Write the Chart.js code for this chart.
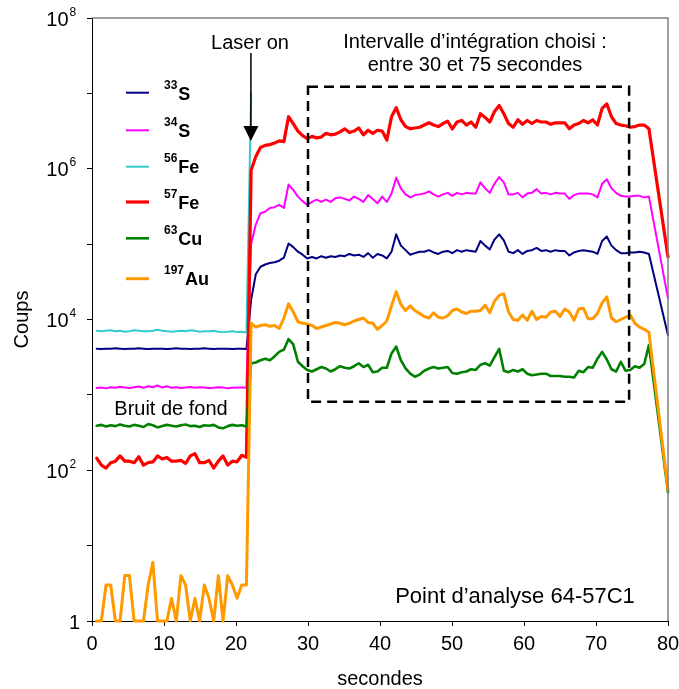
<!DOCTYPE html>
<html><head><meta charset="utf-8">
<script src="https://cdn.jsdelivr.net/npm/chart.js@4"></script>
<style>html,body{margin:0;padding:0;background:#fff;}#wrap{width:679px;height:689px;}</style>
</head><body><div id="wrap"><canvas id="c" width="679" height="689"></canvas></div>
<script>
// ---------- DATA ----------
const times = [
 0.65,1.3,1.95,2.6,3.25,3.9,4.55,5.2,5.85,6.5,
 7.15,7.8,8.45,9.1,9.75,10.4,11.05,11.7,12.35,13,
 13.65,14.3,14.95,15.6,16.25,16.9,17.55,18.2,18.85,19.5,
 20.15,20.8,21.45,
 22.1,22.75,23.4,24.05,24.7,25.35,26,26.65,27.3,27.95,
 28.6,29.25,29.9,30.55,31.2,31.85,32.5,33.15,33.8,34.45,
 35.1,35.75,36.4,37.05,37.7,38.35,39,39.65,40.3,40.95,
 41.6,42.25,42.9,43.55,44.2,44.85,45.5,46.15,46.8,47.45,
 48.1,48.75,49.4,50.05,50.7,51.35,52,52.65,53.3,53.95,
 54.6,55.25,55.9,56.55,57.2,57.85,58.5,59.15,59.8,60.45,
 61.1,61.75,62.4,63.05,63.7,64.35,65,65.65,66.3,66.95,
 67.6,68.25,68.9,69.55,70.2,70.85,71.5,72.15,72.8,73.45,
 74.1,74.75,75.4,76.05,76.7,77.35,
 80
];
const isotopeMass = ['33','34','56','57','63','197'];
const elementNames = ['S','S','Fe','Fe','Cu','Au'];

const s33 = [
 4100,4050,4100,4100,4150,4100,4050,4100,4100,4150,
 4100,4050,4100,4100,4100,4050,4100,4150,4100,4100,
 4050,4100,4100,4150,4100,4050,4100,4100,4100,4050,
 4100,4100,4050,
 1.82e4,3.98e4,5.01e4,5.37e4,5.62e4,5.75e4,6.03e4,6.61e4,1.02e5,9.12e4,
 7.94e4,7.24e4,6.46e4,6.76e4,6.46e4,6.92e4,6.61e4,6.92e4,6.76e4,7.08e4,
 6.92e4,7.41e4,7.08e4,7.24e4,6.76e4,7.59e4,6.61e4,7.41e4,7.08e4,6.46e4,
 7.94e4,1.35e5,9.55e4,8.32e4,7.24e4,7.59e4,7.94e4,7.94e4,8.32e4,7.76e4,
 7.41e4,7.94e4,8.13e4,7.59e4,8.32e4,7.94e4,8.32e4,8.13e4,7.94e4,1.10e5,
 9.55e4,8.51e4,1.15e5,1.35e5,1.12e5,7.94e4,7.59e4,8.32e4,7.41e4,8.13e4,
 8.32e4,8.91e4,8.13e4,8.32e4,7.94e4,8.32e4,8.13e4,8.13e4,7.08e4,7.76e4,
 8.13e4,8.32e4,8.13e4,7.94e4,7.41e4,1.10e5,1.26e5,9.55e4,8.32e4,7.59e4,
 7.59e4,7.76e4,7.76e4,7.94e4,7.76e4,7.41e4,
 6170
];
const s34 = [
 1230,1250,1220,1260,1240,1280,1250,1230,1260,1290,
 1240,1300,1260,1330,1250,1300,1240,1260,1230,1250,
 1270,1240,1260,1250,1230,1240,1260,1250,1220,1240,
 1250,1250,1240,
 1.00e5,1.82e5,2.57e5,2.69e5,3.02e5,3.09e5,3.31e5,3.02e5,6.17e5,5.25e5,
 4.27e5,3.72e5,3.31e5,3.63e5,3.89e5,3.63e5,3.89e5,3.63e5,4.07e5,4.17e5,
 3.98e5,3.80e5,4.27e5,3.98e5,3.63e5,4.47e5,3.98e5,3.47e5,4.27e5,3.63e5,
 4.68e5,7.59e5,5.50e5,4.57e5,4.17e5,4.47e5,4.57e5,4.68e5,5.01e5,4.57e5,
 4.27e5,4.57e5,4.79e5,4.37e5,4.79e5,4.57e5,4.79e5,4.68e5,4.68e5,6.61e5,
 5.50e5,4.79e5,6.31e5,7.76e5,6.61e5,4.57e5,4.57e5,4.79e5,4.17e5,4.68e5,
 4.79e5,5.37e5,4.68e5,4.79e5,4.57e5,4.79e5,4.68e5,4.68e5,3.98e5,4.47e5,
 4.68e5,4.68e5,4.68e5,4.57e5,4.17e5,6.31e5,7.24e5,5.50e5,4.79e5,4.37e5,
 4.27e5,4.27e5,4.37e5,4.37e5,4.17e5,4.27e5,
 1.91e4
];
const fe56 = [
 7100,7000,7100,7200,7000,7100,6900,7000,7200,7100,
 7000,7000,7100,7300,7100,7000,6900,7000,7100,7000,
 7200,7100,6900,7000,7000,7100,6900,6800,6900,7000,
 6800,6900,6700,
 1.0e7
];
const fe57 = [
 145,117,107,126,132,155,132,132,126,151,
 117,126,129,155,141,148,132,132,135,123,
 155,166,126,126,135,107,132,155,117,132,
 129,158,148,
 9.55e5,1.45e6,1.91e6,2.04e6,2.09e6,2.19e6,2.34e6,2.29e6,4.90e6,3.98e6,
 3.16e6,2.75e6,2.51e6,2.69e6,2.57e6,2.63e6,2.95e6,2.82e6,2.88e6,3.09e6,
 3.39e6,3.02e6,3.16e6,3.47e6,2.82e6,3.24e6,2.95e6,3.24e6,3.16e6,2.40e6,
 4.90e6,6.46e6,4.47e6,3.63e6,3.39e6,3.47e6,3.55e6,3.80e6,4.07e6,3.80e6,
 3.63e6,3.98e6,4.27e6,3.39e6,4.17e6,4.37e6,3.80e6,4.17e6,3.55e6,5.37e6,
 4.79e6,4.17e6,5.75e6,6.92e6,5.37e6,3.98e6,3.55e6,4.47e6,3.89e6,4.37e6,
 3.98e6,4.37e6,4.17e6,4.17e6,3.89e6,4.07e6,4.07e6,4.07e6,3.39e6,3.80e6,
 3.98e6,4.37e6,4.07e6,4.47e6,3.80e6,6.31e6,7.24e6,4.90e6,3.98e6,3.80e6,
 3.72e6,3.55e6,3.63e6,3.80e6,3.80e6,3.39e6,
 6.76e4
];
const cu63 = [
 390,400,380,395,385,405,390,380,400,390,
 375,410,395,370,385,400,390,380,395,405,
 385,390,375,395,390,400,370,360,385,400,
 390,395,380,
 2630,2690,2880,3020,2880,3240,3720,3980,5500,4680,
 2750,2400,2140,2040,2190,2340,2240,2040,2190,2400,
 2290,2240,2400,2630,2340,2510,2000,2040,2290,2290,
 3550,4370,2880,2240,1910,1740,1860,2090,2240,2340,
 2240,2290,2340,1950,1910,2000,2040,2190,2140,2510,
 2630,2450,3160,4070,2090,2000,2140,2040,2190,1910,
 1820,1860,1910,1910,1780,1780,1780,1740,1740,1700,
 2090,2000,2340,2290,3020,3720,2950,2190,2040,2750,
 2090,2140,2400,2290,2570,4570,
 51
];
const au197 = [
 1,1,3,3,1,1,4,4,1,1,
 1,3,6,1,1,1,2,1,4,3,
 1,2,1,3,2,1,4,1,4,3,
 2,3,3,
 8910,7940,8320,8510,8130,8320,7590,10470,16220,12590,
 9330,8910,8710,8320,7590,7940,8320,8710,9120,8910,
 8510,8910,9550,10000,10470,9120,8910,7410,8320,9550,
 15140,23440,15850,13180,15140,13180,12020,10960,10470,12300,
 10720,10470,11220,13180,13800,12590,12020,12880,12880,13180,
 15490,12300,17380,20890,21880,12590,10000,9770,11480,9770,
 12880,10000,10960,10720,12590,12880,10960,13800,12590,9770,
 13800,14130,10230,10230,12020,16600,19950,10470,9330,10000,
 10720,11480,8910,7940,7410,6760,
 55
];
const yDecades = [1,10,100,1e3,1e4,1e5,1e6,1e7,1e8];
const yLabelValues = [1,1e2,1e4,1e6,1e8];
const yLabelBase = ['1','10','10','10','10'];
const yLabelExp = ['','2','4','6','8'];
const xTickStep = 10;
const laserOnTime = 22;
const integrationWindow = [30, 74.6];
const boxCounts = [810, 1.22e7];

// ---------- STYLE ----------
const FONT = "'Liberation Sans', Arial, Helvetica, sans-serif";
const seriesValues = [s33, s34, fe56, fe57, cu63, au197];
const colors = ['#000080','#FF00FF','#33CCCC','#FF0000','#008000','#FF9900'];
const widths = [2, 2, 2, 3.2, 2.6, 3];

const datasets = seriesValues.map((vals, i) => ({
  label: isotopeMass[i] + elementNames[i],
  data: vals.map((v, j) => ({x: times[j], y: v})),
  borderColor: colors[i],
  backgroundColor: colors[i],
  borderWidth: widths[i],
  pointRadius: 0,
  tension: 0,
  borderJoinStyle: 'round',
  borderCapStyle: 'round',
  clip: false,
  order: 5 - i
}));

const annot = {
  id: 'annot',
  afterDatasetsDraw(chart) {
    const {ctx, chartArea: a, scales: {x, y}} = chart;
    ctx.save();
    ctx.strokeStyle = '#808080'; ctx.lineWidth = 1.5;
    ctx.beginPath(); ctx.moveTo(a.left, a.top); ctx.lineTo(a.right, a.top); ctx.lineTo(a.right, a.bottom); ctx.stroke();
    const x0 = x.getPixelForValue(integrationWindow[0]), x1 = x.getPixelForValue(integrationWindow[1]);
    const y0 = y.getPixelForValue(boxCounts[1]), y1 = y.getPixelForValue(boxCounts[0]);
    ctx.strokeStyle = '#000'; ctx.lineWidth = 2.5; ctx.setLineDash([10, 6]);
    ctx.strokeRect(x0, y0, x1 - x0, y1 - y0);
    ctx.setLineDash([]);
    const xa = x.getPixelForValue(laserOnTime) + 0.5;
    ctx.lineWidth = 1.5;
    ctx.beginPath(); ctx.moveTo(xa, 53); ctx.lineTo(xa, 128); ctx.stroke();
    ctx.fillStyle = '#000';
    ctx.beginPath(); ctx.moveTo(xa - 7.5, 126); ctx.lineTo(xa + 7.5, 126); ctx.lineTo(xa, 141); ctx.closePath(); ctx.fill();
    ctx.font = '20px ' + FONT; ctx.textAlign = 'center'; ctx.textBaseline = 'alphabetic';
    ctx.fillText('Laser on', 250, 49);
    ctx.fillText('Intervalle d\u2019int\u00e9gration choisi :', 475, 48);
    ctx.fillText('entre 30 et 75 secondes', 475, 71);
    ctx.fillText('Bruit de fond', 171, 415);
    ctx.font = '22px ' + FONT;
    ctx.fillText('Point d\u2019analyse 64-57C1', 515, 603);
    ctx.restore();
  },
  afterDraw(chart) {
    const {ctx, scales: {y}} = chart;
    ctx.save();
    ctx.fillStyle = '#000';
    yLabelValues.forEach((v, i) => {
      const py = y.getPixelForValue(v);
      ctx.font = '20px ' + FONT; ctx.textAlign = 'right'; ctx.textBaseline = 'alphabetic';
      if (yLabelExp[i] === '') {
        ctx.fillText(yLabelBase[i], 80, py + 7.5);
      } else {
        ctx.fillText(yLabelBase[i], 68.5, py + 7.5);
        ctx.font = '12px ' + FONT; ctx.textAlign = 'left';
        ctx.fillText(yLabelExp[i], 69.5, py - 2.5);
      }
    });
    const lineY = [92.7, 130.3, 166.7, 202, 238.3, 278.7];
    const textY = [99.5, 136.7, 173.3, 209.3, 245, 285];
    datasets.forEach((d, i) => {
      ctx.strokeStyle = d.borderColor; ctx.lineWidth = d.borderWidth;
      ctx.beginPath(); ctx.moveTo(126, lineY[i]); ctx.lineTo(149, lineY[i]); ctx.stroke();
      ctx.textAlign = 'left'; ctx.textBaseline = 'alphabetic';
      ctx.font = 'bold 12px ' + FONT;
      ctx.fillText(isotopeMass[i], 164, textY[i] - 11);
      const w = ctx.measureText(isotopeMass[i]).width;
      ctx.font = 'bold 18px ' + FONT;
      ctx.fillText(elementNames[i], 164 + w + 1, textY[i]);
    });
    ctx.restore();
  }
};

new Chart(document.getElementById('c'), {
  type: 'line',
  data: {datasets},
  options: {
    responsive: false,
    animation: false,
    devicePixelRatio: 1,
    layout: {padding: {left: 0, right: 11, top: 18, bottom: 0}},
    plugins: {legend: {display: false}, tooltip: {enabled: false}},
    scales: {
      x: {
        type: 'linear', min: 0, max: 80,
        afterFit(s) { s.height = 68; s.paddingLeft = 0; s.paddingRight = 0; },
        ticks: {stepSize: xTickStep, color: '#000', font: {family: FONT, size: 20}, padding: 6, maxRotation: 0},
        grid: {drawOnChartArea: false, drawTicks: true, tickLength: 5, color: '#000'},
        border: {color: '#000', width: 1},
        title: {display: true, text: 'secondes', color: '#000', font: {family: FONT, size: 20, lineHeight: 1}, padding: {top: 0, bottom: 0}}
      },
      y: {
        type: 'logarithmic', min: 1, max: 1e8,
        afterFit(s) { s.width = 92; s.paddingTop = 0; s.paddingBottom = 0; },
        afterBuildTicks(s) { s.ticks = yDecades.map(v => ({value: v})); },
        ticks: {display: false},
        grid: {drawOnChartArea: false, drawTicks: true, tickLength: 5, color: '#000'},
        border: {color: '#000', width: 1},
        title: {display: true, text: 'Coups', color: '#000', font: {family: FONT, size: 20, lineHeight: 1}, padding: {top: 12, bottom: 0}}
      }
    }
  },
  plugins: [annot]
});
</script>
</body></html>
